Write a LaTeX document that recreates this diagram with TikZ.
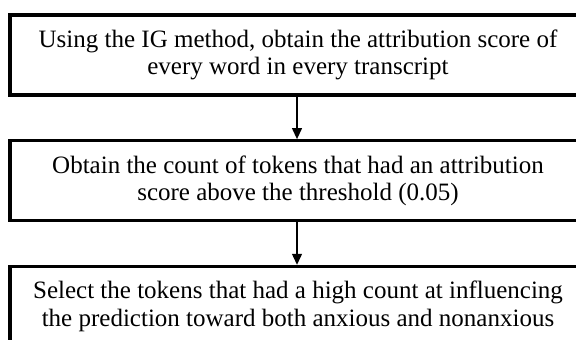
\documentclass[tikz,border=0pt]{standalone}
\usepackage{fontspec}
\setmainfont{Liberation Serif}
\usetikzlibrary{arrows.meta, positioning}

\begin{document}
\begin{tikzpicture}[
  x=0.5pt, y=0.5pt,
  font=\fontsize{12.5}{13.6}\selectfont,
  node distance=21.25pt,
  stepbox/.style={rectangle, draw, line width=1.6pt, align=center, minimum width=288pt, minimum height=40pt, inner sep=0pt},
  flow/.style={-{Triangle[length=5.5pt, width=5pt]}, line width=0.6pt}
]
\clip (0,0) rectangle (576,-340);
\node (score)  [stepbox] at (298,-55) {Using the IG method, obtain the attribution score of\\every word in every transcript};
\node (count)  [stepbox, below=of score] {Obtain the count of tokens that had an attribution\\score above the threshold (0.05)};
\node (select) [stepbox, below=of count] {Select the tokens that had a high count at influencing\\the prediction toward both anxious and nonanxious};

\draw [flow] (score.south -| 297,0) -- (count.north -| 297,0);
\draw [flow] (count.south -| 297,0) -- (select.north -| 297,0);
\end{tikzpicture}
\end{document}
